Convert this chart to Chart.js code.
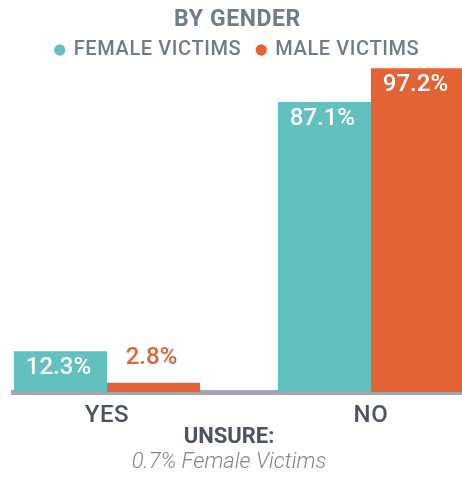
<!DOCTYPE html>
<html>
<head>
<meta charset="utf-8">
<script src="https://cdn.jsdelivr.net/npm/chart.js@4.4.1/dist/chart.umd.min.js"></script>
<style>
  html, body { margin: 0; padding: 0; background: #fff; }
  #wrap { width: 462px; height: 481px; }
</style>
</head>
<body>
<div id="wrap"><canvas id="genderChart"></canvas></div>
<script>
const answers = ["YES", "NO"];
const female = [12.3, 87.1];
const male = [2.8, 97.2];
const unsureFemale = 0.7;

const teal = '#62c0bf';
const orange = '#e46335';

Chart.defaults.font.family = 'Roboto';

// a little tracking for the title and legend text only
const tracking = {
    id: 'tracking',
    beforeLayout(chart) { chart.ctx.letterSpacing = '0.6px'; },
    afterLayout(chart) { chart.ctx.letterSpacing = '0px'; },
    beforeDraw(chart) { chart.ctx.letterSpacing = '0.6px'; },
    beforeDatasetsDraw(chart) { chart.ctx.letterSpacing = '0px'; }
};

// percentage printed at the top of each bar (above it when the bar is too short)
const valueLabels = {
    id: 'valueLabels',
    afterDatasetsDraw(chart) {
        const c = chart.ctx;
        c.save();
        c.font = '500 24px Roboto';
        c.textAlign = 'center';
        c.textBaseline = 'alphabetic';
        chart.data.datasets.forEach((ds, d) => {
            chart.getDatasetMeta(d).data.forEach((bar, i) => {
                const v = ds.data[i].y;
                const inside = bar.base - bar.y > 30;
                c.fillStyle = inside ? '#ffffff' : ds.backgroundColor;
                c.fillText(v.toFixed(1) + '%', bar.x - 2, inside ? bar.y + 23 : bar.y - 19);
            });
        });
        c.restore();
    }
};

// "unsure" note under the axis
const unsureNote = {
    id: 'unsureNote',
    afterDraw(chart) {
        const c = chart.ctx;
        const cx = chart.width / 2 - 2;
        c.save();
        c.letterSpacing = '0px';
        c.textAlign = 'center';
        c.textBaseline = 'alphabetic';
        c.fillStyle = '#4b5561';
        c.font = 'bold 22px Roboto';
        c.fillText('UNSURE:', cx, 443);
        c.fillStyle = '#7d8692';
        c.font = 'italic 300 22px Roboto';
        c.fillText(unsureFemale + '% Female Victims', cx, 468);
        c.restore();
    }
};

const ctx = document.getElementById('genderChart').getContext('2d');

new Chart(ctx, {
    type: 'bar',
    data: {
        datasets: [{
            label: 'FEMALE VICTIMS',
            data: answers.map((a, i) => ({ x: i, y: female[i] })),
            backgroundColor: teal,
            borderWidth: 0
        }, {
            label: 'MALE VICTIMS',
            data: answers.map((a, i) => ({ x: i, y: male[i] })),
            backgroundColor: orange,
            borderWidth: 0
        }]
    },
    options: {
        responsive: true,
        maintainAspectRatio: false,
        animation: false,
        categoryPercentage: 0.705,
        barPercentage: 1,
        layout: {
            padding: { left: 13, right: 0, top: 0, bottom: 42 }
        },
        plugins: {
            title: {
                display: true,
                text: 'BY GENDER',
                color: '#717c89',
                font: { size: 23, weight: 'bold', lineHeight: 1 },
                padding: { top: 9, bottom: -8 }
            },
            legend: {
                maxHeight: 35,
                labels: {
                    usePointStyle: true,
                    pointStyle: 'circle',
                    boxWidth: 8,
                    boxHeight: 8,
                    padding: 16,
                    color: '#717c89',
                    font: { size: 20, weight: 500 }
                }
            },
            tooltip: { enabled: false }
        },
        scales: {
            x: {
                type: 'linear',
                min: -0.356,
                max: 1.345,
                offset: false,
                z: 1,
                grid: { display: false, drawTicks: false },
                border: { color: '#a4a7b1', width: 5 },
                afterBuildTicks: scale => {
                    scale.ticks = answers.map((a, i) => ({ value: i }));
                },
                ticks: {
                    callback: v => answers[v],
                    color: '#4b5561',
                    font: { size: 24, weight: 500 },
                    padding: 9,
                    autoSkip: false,
                    maxRotation: 0
                }
            },
            y: {
                display: false,
                min: 0,
                max: 100
            }
        }
    },
    plugins: [tracking, valueLabels, unsureNote]
});
</script>
</body>
</html>
